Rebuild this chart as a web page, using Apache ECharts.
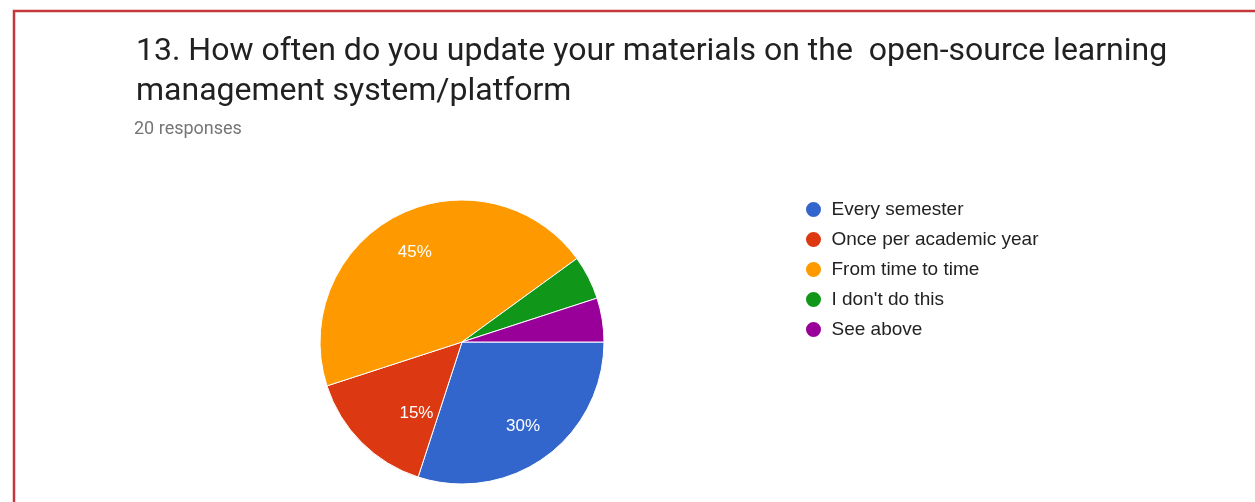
<!DOCTYPE html>
<html><head><meta charset="utf-8">
<script src="https://cdn.jsdelivr.net/npm/echarts@6/dist/echarts.min.js"></script>
<style>html,body{margin:0;padding:0;background:#fff}#c{width:1255px;height:502px}</style>
</head><body><div id="c"></div>
<script>
const titleText = '13. How often do you update your materials on the  open-source learning\nmanagement system/platform';
const subtitleText = '20 responses';
const categories = ['Every semester', 'Once per academic year', 'From time to time', "I don't do this", 'See above'];
const counts = [6, 3, 9, 1, 1];
const colors = ['#3366cc', '#dc3912', '#ff9900', '#109618', '#990099'];

const pieData = categories.map((name, i) => ({ name: name, value: counts[i] }));
const chart = echarts.init(document.getElementById('c'), null, { renderer: 'canvas' });
chart.setOption({
  animation: false,
  color: colors,
  graphic: [{
    type: 'rect', silent: true,
    shape: { x: 14, y: 11, width: 1400, height: 700 },
    style: { fill: 'none', stroke: '#c4383b', lineWidth: 2.5 }
  }],
  title: [{
    text: titleText, left: 131, top: 27,
    textStyle: { fontFamily: 'Roboto', fontSize: 32, fontWeight: 'normal', color: '#212121', lineHeight: 40 }
  }, {
    text: subtitleText, left: 129, top: 115,
    textStyle: { fontFamily: 'Roboto', fontSize: 18, fontWeight: 'normal', color: '#757575' }
  }],
  legend: {
    orient: 'vertical', left: 799, top: 195,
    icon: 'circle', itemWidth: 26, itemHeight: 17, itemGap: 11,
    data: categories,
    textStyle: { fontFamily: 'Liberation Sans, Arial', fontSize: 19, color: '#222' }
  },
  series: [{
    type: 'pie', center: [462, 342], radius: 142,
    startAngle: 0, clockwise: true,
    data: pieData,
    itemStyle: { borderColor: '#fff', borderWidth: 1 },
    label: { show: false }, labelLine: { show: false },
    emphasis: { disabled: true }
  }, {
    type: 'pie', center: [462, 342], radius: [60, 142],
    startAngle: 0, clockwise: true, silent: true,
    data: pieData,
    itemStyle: { color: 'rgba(0,0,0,0)', borderWidth: 0 },
    label: {
      show: true, position: 'inside',
      fontFamily: 'Liberation Sans, Arial', fontSize: 17, color: '#fff',
      formatter: p => p.percent >= 10 ? Math.round(p.percent) + '%' : ''
    },
    labelLayout: p => (p.dataIndex === 1 ? { dx: 28, dy: -2 } : (p.dataIndex === 2 ? { dy: 3 } : {})),
    labelLine: { show: false },
    emphasis: { disabled: true }
  }]
});
</script></body></html>
